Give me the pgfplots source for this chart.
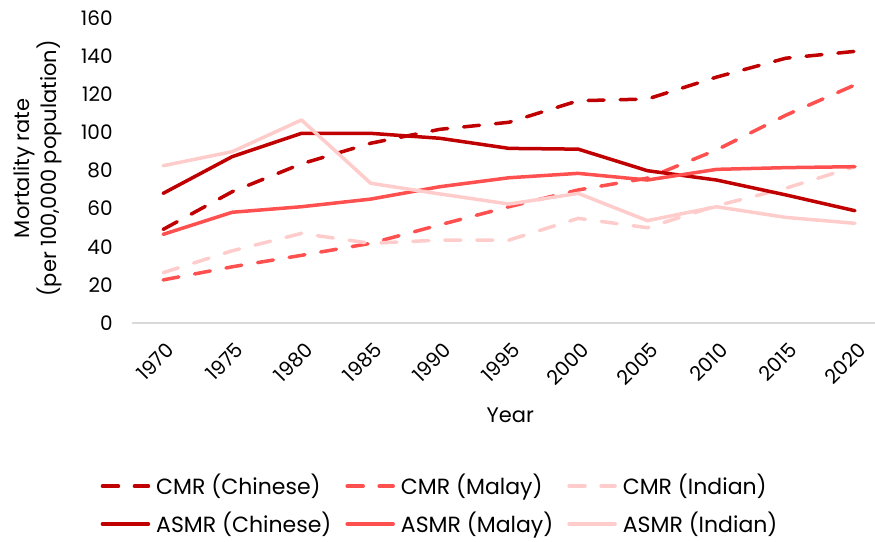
\documentclass[border=0pt]{standalone}
\usepackage{fontspec}
\setmainfont{Poppins}
\usepackage{pgfplots}
\pgfplotsset{compat=1.18}
\definecolor{dred}{HTML}{C00000}
\definecolor{mred}{HTML}{FF5050}
\definecolor{lred}{HTML}{FFCCCC}
\begin{document}
\fontsize{10.5}{12.5}\selectfont
\begin{tikzpicture}[x=1pt,y=1pt]
\useasboundingbox (-66,-109.5) rectangle (371.5,161.5);
\begin{axis}[
  at={(0,0)}, anchor=south west,
  scale only axis, width=371.5pt, height=152.5pt,
  xmin=-0.45, xmax=10.29, ymin=0, ymax=160,
  axis x line*=bottom, axis y line*=left,
  x axis line style={draw=black!15, line width=0.8pt, -},
  y axis line style={draw=none},
  major tick length=0pt,
  xtick={0,...,10},
  xticklabels={1970,1975,1980,1985,1990,1995,2000,2005,2010,2015,2020},
  ytick={0,20,...,160},
  /pgf/number format/assume math mode=true,
  tick label style={font=\fontsize{10}{12}\selectfont},
  x tick label style={anchor=north east, xshift=1pt, yshift=-7.5pt, rotate=45, inner sep=1pt},
  y tick label style={anchor=east, xshift=-6pt},
  xlabel={Year},
  ylabel={Mortality rate\\(per 100,000 population)},
  label style={font=\fontsize{10.5}{12.5}\selectfont},
  every axis x label/.style={at={(axis description cs:0.509,-0.302)}, anchor=center},
  every axis y label/.style={at={(axis description cs:-0.127,0.507)}, rotate=90, anchor=center, align=center},
  legend columns=3,
  legend cell align=left,
  legend style={draw=none, fill=none, at={(axis description cs:0.416,-0.597)}, anchor=center,
    font=\fontsize{11}{13}\selectfont,
    /tikz/every odd column/.append style={column sep=1pt},
    /tikz/every even column/.append style={column sep=5pt},
    row sep=3pt},
  legend image code/.code={\draw[#1] (0pt,0pt) -- (23pt,0pt);},
  every axis plot/.append style={line width=1.75pt, line cap=round, line join=round},
]
\addplot[dred, dash pattern=on 8pt off 8pt] coordinates {(0,49.1)(1,68.9)(2,83.5)(3,94.3)(4,101.6)(5,105.3)(6,116.6)(7,117.5)(8,129)(9,138.9)(10,142.5)};
\addlegendentry{CMR (Chinese)}
\addplot[mred, dash pattern=on 8pt off 8pt] coordinates {(0,22.6)(1,29.5)(2,35.5)(3,41.8)(4,51.5)(5,61)(6,69.8)(7,76)(8,90.8)(9,109)(10,124.9)};
\addlegendentry{CMR (Malay)}
\addplot[lred, dash pattern=on 8pt off 8pt] coordinates {(0,26.4)(1,37.9)(2,47)(3,41.8)(4,43.5)(5,43.5)(6,54.9)(7,50)(8,61.5)(9,70.7)(10,82)};
\addlegendentry{CMR (Indian)}
\addplot[dred] coordinates {(0,68)(1,87.3)(2,99.5)(3,99.5)(4,96.9)(5,91.6)(6,91.2)(7,79.9)(8,75)(9,67.2)(10,58.9)};
\addlegendentry{ASMR (Chinese)}
\addplot[mred] coordinates {(0,46.5)(1,58.1)(2,61)(3,65)(4,71.5)(5,76.2)(6,78.5)(7,75)(8,80.6)(9,81.5)(10,82)};
\addlegendentry{ASMR (Malay)}
\addplot[lred] coordinates {(0,82.5)(1,89.9)(2,106.5)(3,73.3)(4,67.7)(5,62.4)(6,68)(7,53.7)(8,61)(9,55.4)(10,52.3)};
\addlegendentry{ASMR (Indian)}
\end{axis}
\end{tikzpicture}
\end{document}
